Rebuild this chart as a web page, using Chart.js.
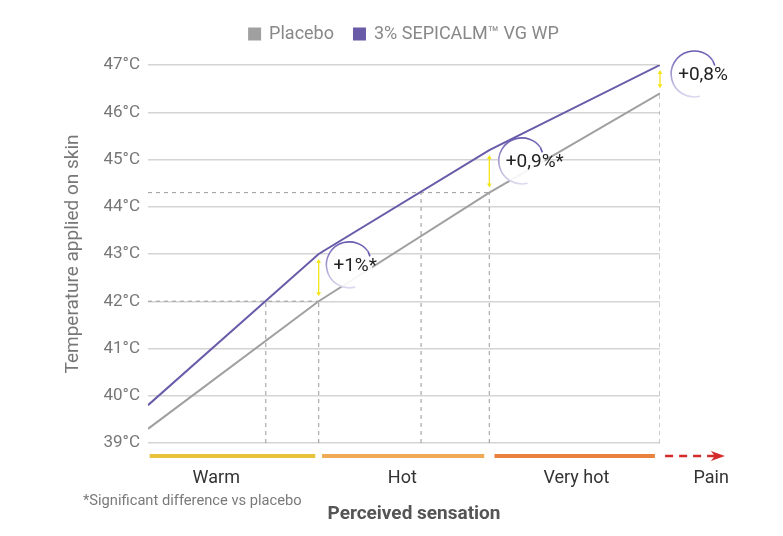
<!DOCTYPE html>
<html>
<head>
<meta charset="utf-8">
<script src="https://cdn.jsdelivr.net/npm/chart.js@4/dist/chart.umd.min.js"></script>
<style>
  html, body { margin: 0; padding: 0; background: #fff; }
  #wrap { width: 783px; height: 536px; position: relative; }
</style>
</head>
<body>
<div id="wrap"><canvas id="chart"></canvas></div>
<script>
// Seuil de perception de la chaleur : placebo vs 3% SEPICALM VG WP.

const steps = [0, 1, 2, 3];
const placebo = [39.3, 42.0, 44.3, 46.4];
const sepicalm = [39.8, 43.0, 45.2, 47.0];
const seriesNames = ["Placebo", "3% SEPICALM\u2122 VG WP"];
const seriesColors = ["#a0a0a0", "#6a5ba9"];

// guides pointillés
const levelY = [42.0, 44.3];
const levelEnd = [1, 2];
const dropX = [0.69, 1, 1.6, 2, 3];
const dropTop = [42.0, 42.0, 44.3, 44.3, 46.4];

// gains annotés
const gainLabels = ["+1%*", "+0,9%*", "+0,8%"];
const gainAt = [1, 2, 3];
const bubbleX = [1.18, 2.19, 3.2];
const bubbleY = [42.77, 44.97, 46.81];

// sensations perçues sous l'axe
const sensations = ["Warm", "Hot", "Very hot", "Pain"];
const bandFrom = [0.01, 1.02, 2.03, 3.03];
const bandTo = [0.98, 1.97, 2.97, 3.38];
const labelAt = [0.4, 1.49, 2.51, 3.3];
const bandColors = ["#e8c23a", "#f0aa55", "#e9823f", "#d42a2a"];

const yTicks = [39, 40, 41, 42, 43, 44, 45, 46, 47];
const FONT = 'Roboto, "Liberation Sans", sans-serif';

const guideSets = [];
levelY.forEach((v, i) => guideSets.push([{ x: 0, y: v }, { x: levelEnd[i], y: v }]));
dropX.forEach((v, i) => guideSets.push([{ x: v, y: 39 }, { x: v, y: dropTop[i] }]));

const datasets = [placebo, sepicalm].map((vals, i) => ({
  label: seriesNames[i],
  data: steps.map((s, j) => ({ x: s, y: vals[j] })),
  borderColor: seriesColors[i],
  backgroundColor: seriesColors[i],
  borderWidth: 2,
  pointRadius: 0,
  tension: 0
}));
guideSets.forEach(pts => datasets.push({
  label: "guide",
  data: pts,
  borderColor: "#a8a8a8",
  borderWidth: 1.2,
  borderDash: [4, 4],
  pointRadius: 0
}));

function arrowHead(ctx, x, y, dir, size) {
  ctx.beginPath();
  ctx.moveTo(x, y);
  ctx.lineTo(x - size * 0.6, y - dir * size);
  ctx.lineTo(x + size * 0.6, y - dir * size);
  ctx.closePath();
  ctx.fill();
}

// un peu d'air sous la légende
const legendGap = {
  id: "legendGap",
  beforeInit(chart) {
    const fit = chart.legend.fit;
    chart.legend.fit = function () {
      fit.bind(this)();
      this.height += 12;
    };
  }
};

const extras = {
  id: "extras",
  afterDatasetsDraw(chart) {
    const { ctx, scales: { x, y } } = chart;
    ctx.save();
    // flèches jaunes entre les deux courbes
    gainAt.forEach((g, i) => {
      const px = x.getPixelForValue(g);
      const top = y.getPixelForValue(sepicalm[g]) + 5;
      const bot = y.getPixelForValue(placebo[g]) - 5;
      ctx.strokeStyle = "#f3e41a";
      ctx.fillStyle = "#f3e41a";
      ctx.lineWidth = 1.3;
      ctx.beginPath();
      ctx.moveTo(px, top + 3);
      ctx.lineTo(px, bot - 3);
      ctx.stroke();
      arrowHead(ctx, px, top, -1, 4);
      arrowHead(ctx, px, bot, 1, 4);
    });
    // bulles des gains
    gainLabels.forEach((txt, i) => {
      const cx = x.getPixelForValue(bubbleX[i]);
      const cy = y.getPixelForValue(bubbleY[i]);
      const r = 23;
      ctx.fillStyle = "rgba(255,255,255,0.9)";
      ctx.beginPath();
      ctx.arc(cx, cy, r, 0, Math.PI * 2);
      ctx.fill();
      const grad = ctx.createLinearGradient(0, cy - r, 0, cy + r);
      grad.addColorStop(0, "#6a5bb0");
      grad.addColorStop(1, "#dcd8ee");
      ctx.strokeStyle = grad;
      ctx.lineWidth = 1.6;
      ctx.beginPath();
      ctx.arc(cx, cy, r, Math.PI * 0.42, Math.PI * 1.8);
      ctx.stroke();
      const ea = Math.PI * 1.8;
      const ex = cx + r * Math.cos(ea), ey = cy + r * Math.sin(ea);
      ctx.strokeStyle = "#6a5bb0";
      ctx.beginPath();
      ctx.moveTo(ex, ey);
      ctx.lineTo(ex + 2, ey + 5);
      ctx.stroke();
      ctx.fillStyle = "#222";
      ctx.font = "19px " + FONT;
      ctx.textAlign = "left";
      ctx.textBaseline = "middle";
      ctx.fillText(txt, cx - r + 7, cy + 1);
    });
    ctx.restore();
  },
  afterDraw(chart) {
    const { ctx, scales: { x, y } } = chart;
    const by = y.bottom + 13;
    ctx.save();
    sensations.forEach((s, i) => {
      const x0 = x.getPixelForValue(bandFrom[i]);
      const x1 = x.getPixelForValue(bandTo[i]);
      ctx.strokeStyle = bandColors[i];
      ctx.fillStyle = bandColors[i];
      ctx.lineWidth = i === 3 ? 2.5 : 4;
      ctx.setLineDash(i === 3 ? [8, 6] : []);
      ctx.beginPath();
      ctx.moveTo(x0, by);
      ctx.lineTo(i === 3 ? x1 - 8 : x1, by);
      ctx.stroke();
      if (i === 3) {
        ctx.setLineDash([]);
        ctx.beginPath();
        ctx.moveTo(x1, by);
        ctx.lineTo(x1 - 14, by - 5);
        ctx.lineTo(x1 - 10, by);
        ctx.lineTo(x1 - 14, by + 5);
        ctx.closePath();
        ctx.fill();
      }
      ctx.fillStyle = "#333";
      ctx.font = "18px " + FONT;
      ctx.textAlign = "center";
      ctx.textBaseline = "middle";
      ctx.fillText(s, x.getPixelForValue(labelAt[i]), by + 22);
    });
    ctx.fillStyle = "#7a7a7a";
    ctx.font = "14.7px " + FONT;
    ctx.textAlign = "left";
    ctx.fillText("*Significant difference vs placebo", 83, by + 45);
    ctx.fillStyle = "#555";
    ctx.font = "bold 19px " + FONT;
    ctx.textAlign = "center";
    ctx.fillText("Perceived sensation", 414, by + 58);
    ctx.restore();
  }
};

new Chart(document.getElementById("chart"), {
  type: "line",
  data: { datasets },
  plugins: [legendGap, extras],
  options: {
    responsive: true,
    maintainAspectRatio: false,
    animation: false,
    layout: { padding: { top: 5, left: 55, right: 123, bottom: 93 } },
    plugins: {
      tooltip: { enabled: false },
      legend: {
        position: "top",
        fullSize: false,
        labels: {
          filter: item => item.text !== "guide",
          boxWidth: 11,
          boxHeight: 11,
          padding: 20,
          color: "#888",
          font: { family: FONT, size: 18 }
        }
      }
    },
    scales: {
      x: { type: "linear", min: 0, max: 3, display: false },
      y: {
        min: 39,
        max: 47,
        afterBuildTicks: s => { s.ticks = yTicks.map(v => ({ value: v })); },
        afterFit: s => { s.width = 93; },
        ticks: { callback: v => v + "\u00B0C", color: "#777", padding: 8, font: { family: FONT, size: 17 } },
        grid: { color: "#d4d4d4", lineWidth: 1.5, drawTicks: false },
        border: { display: false },
        title: {
          display: true,
          text: "Temperature applied on skin",
          color: "#777",
          padding: { top: 7, bottom: 0 },
          font: { family: FONT, size: 19 }
        }
      }
    }
  }
});
</script>
</body>
</html>
